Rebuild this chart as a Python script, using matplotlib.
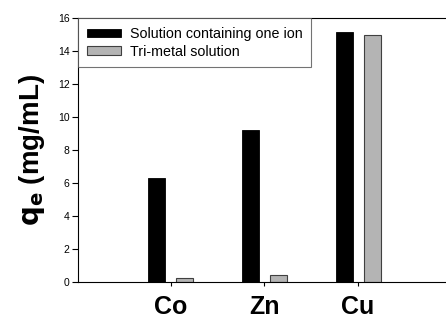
import matplotlib
matplotlib.use("Agg")
import matplotlib.pyplot as plt
import numpy as np

plt.rcParams['font.family'] = ['Liberation Sans', 'DejaVu Sans']

categories = ["Co", "Zn", "Cu"]
single_ion = [6.28, 9.2, 15.15]
tri_metal = [0.22, 0.42, 15.0]
series_labels = ["Solution containing one ion", "Tri-metal solution"]
yticks = [0, 2, 4, 6, 8, 10, 12, 14, 16]

fig = plt.figure(figsize=(4.46, 3.2), dpi=100)
ax = fig.add_axes([78/446, 1 - 282/320, (449-78)/446, (282-18)/320])

x = np.arange(len(categories))
w = 0.18
ax.bar(x - 0.15, single_ion, width=w, color="black", edgecolor="black", linewidth=0.6,
       label=series_labels[0])
ax.bar(x + 0.15, tri_metal, width=w, color="#b4b4b4", edgecolor="#404040", linewidth=0.8,
       label=series_labels[1])

ax.set_xlim(-0.99, 2.97)
ax.set_ylim(0, 16)
ax.set_yticks(yticks)
ax.set_yticklabels([str(t) for t in yticks], fontsize=7.5)
ax.set_xticks(x)
ax.set_xticklabels(categories, fontsize=18, fontweight="bold")
ax.tick_params(axis="y", direction="out", length=4, width=0.8, pad=2)
ax.tick_params(axis="x", direction="out", length=3, width=0.8, pad=6)
ax.spines["right"].set_visible(False)
for s in ["left", "top", "bottom"]:
    ax.spines[s].set_linewidth(0.8)

ax.set_ylabel(r"$\mathbf{q_e}$ (mg/mL)", fontsize=20, fontweight="bold", labelpad=8)

leg = ax.legend(loc="upper left", bbox_to_anchor=(0, 1), fontsize=10.3, frameon=True,
                fancybox=False, edgecolor="#505050", borderaxespad=0,
                handlelength=2.4, handleheight=0.5, labelspacing=0.26,
                borderpad=0.62, handletextpad=0.6)
leg.get_frame().set_linewidth(0.8)

fig.savefig("out.png", dpi=100)
